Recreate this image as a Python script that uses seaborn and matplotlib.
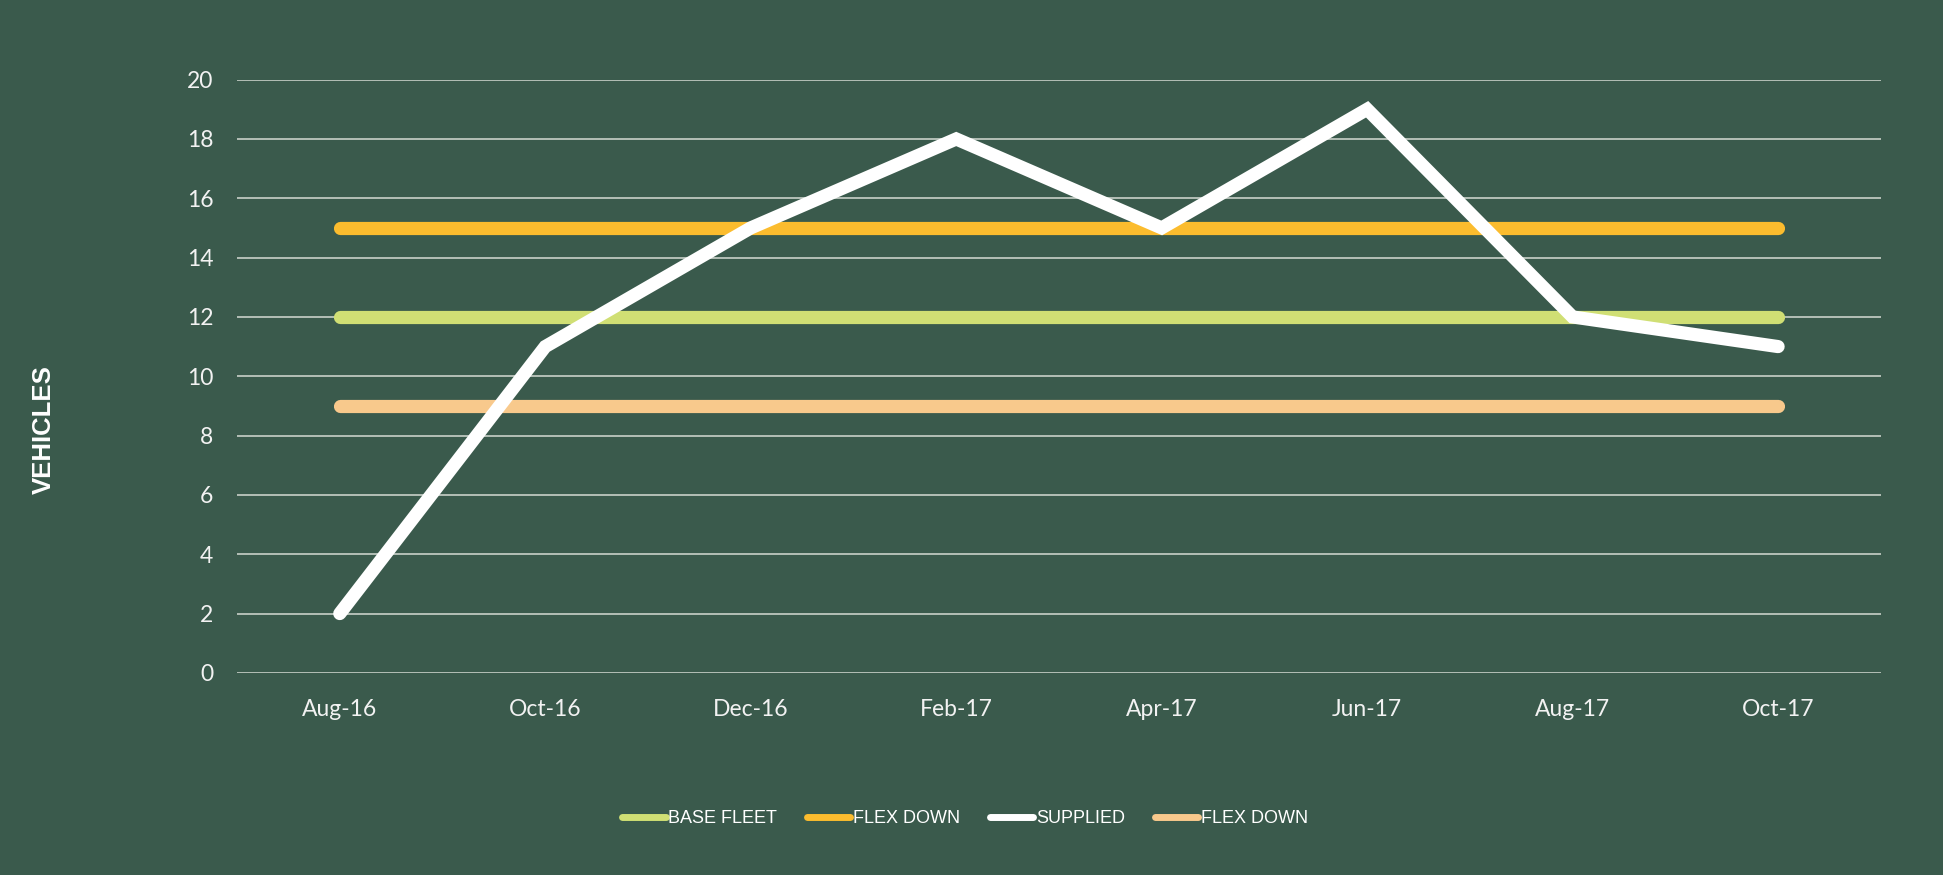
import pandas as pd
import matplotlib.pyplot as plt
import seaborn as sns

# chart data
months = ['Aug-16', 'Oct-16', 'Dec-16', 'Feb-17', 'Apr-17', 'Jun-17', 'Aug-17', 'Oct-17']
base_fleet = [12, 12, 12, 12, 12, 12, 12, 12]
flex_up = [15, 15, 15, 15, 15, 15, 15, 15]
supplied = [2, 11, 15, 18, 15, 19, 12, 11]
flex_down = [9, 9, 9, 9, 9, 9, 9, 9]
yticks = list(range(0, 21, 2))

bg = '#3A5A4C'
series = [
    ('BASE FLEET', base_fleet, '#D0DF74', 2),
    ('FLEX DOWN', flex_up, '#FBBC2E', 2),
    ('SUPPLIED', supplied, '#FFFFFF', 3),
    ('FLEX DOWN', flex_down, '#F8C98C', 2),
]

sns.set_style('white')
fig = plt.figure(figsize=(19.43, 8.75), dpi=100, facecolor=bg)
ax = fig.add_axes([0.122, 0.231, 0.846, 0.678])
ax.set_facecolor(bg)

for label, values, color, z in series:
    df = pd.DataFrame({'month': months, 'value': values})
    sns.lineplot(data=df, x='month', y='value', ax=ax, color=color, label=label,
                 linewidth=9.5, sort=False, zorder=z,
                 solid_capstyle='round', solid_joinstyle='miter')

ax.set_xlim(-0.5, len(months) - 0.5)
ax.set_ylim(0, 20)
ax.set_yticks(yticks)
ax.yaxis.grid(True, color='#D5DBD3', linewidth=1.1)
ax.xaxis.grid(False)
ax.set_axisbelow(True)
for s in ax.spines.values():
    s.set_visible(False)
ax.tick_params(axis='both', length=0, colors='#F2F2F2', labelsize=16.5)
ax.tick_params(axis='y', pad=17)
ax.tick_params(axis='x', pad=19)
for t in ax.get_xticklabels() + ax.get_yticklabels():
    t.set_family(['Lato', 'DejaVu Sans'])

ax.set_xlabel('')
ax.set_ylabel('VEHICLES', color='white', fontsize=18.5, fontweight='bold',
              family=['Liberation Sans Narrow', 'Liberation Sans', 'DejaVu Sans'])
ax.yaxis.set_label_coords(-0.110, 0.41)

leg = ax.legend(loc='center', bbox_to_anchor=(0.443, -0.246), ncol=4, frameon=False,
                handlelength=2.4, handletextpad=0.15, columnspacing=1.65,
                prop={'family': ['Liberation Sans Narrow', 'Liberation Sans', 'DejaVu Sans'],
                      'size': 13})
for line in leg.get_lines():
    line.set_linewidth(5)
for t in leg.get_texts():
    t.set_color('white')

fig.savefig('out.png', dpi=100, facecolor=bg)
